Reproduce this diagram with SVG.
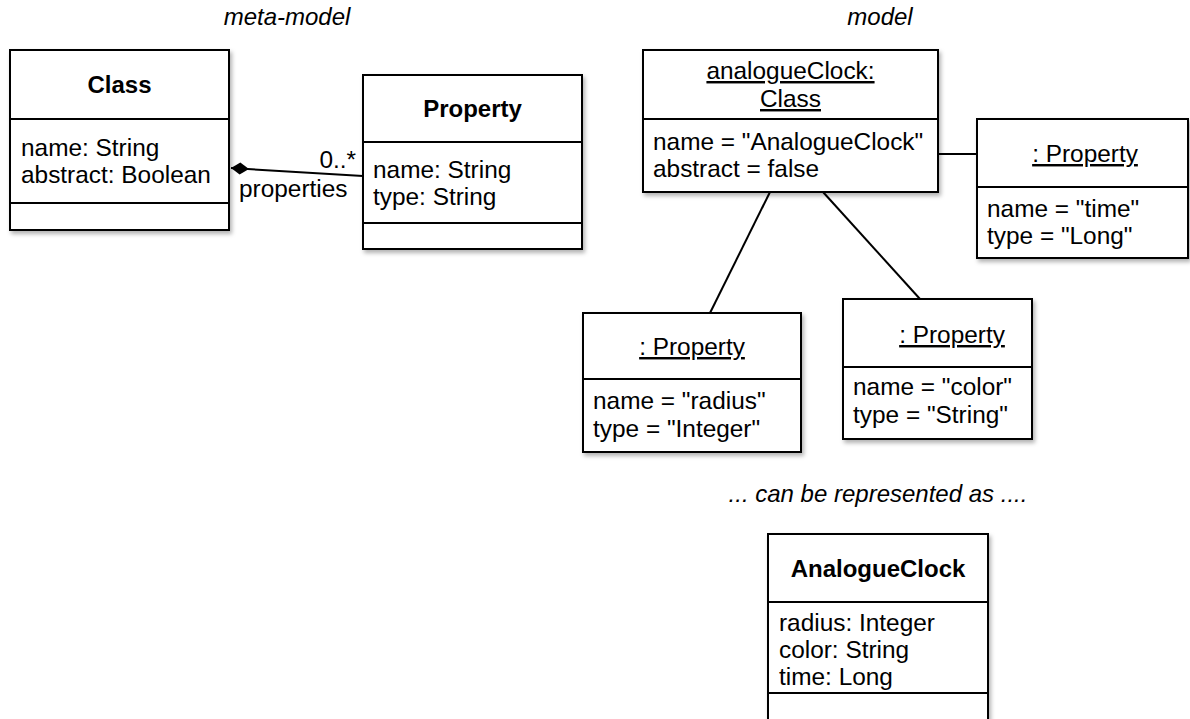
<svg xmlns="http://www.w3.org/2000/svg" width="1190" height="719" viewBox="0 0 1190 719">
  <style>
    text { font-family: "Liberation Sans", Arial, sans-serif; font-size: 24.4px; fill: #000; }
    .title { font-weight: bold; text-anchor: middle; font-size: 24px; }
    .inst { text-anchor: middle; text-decoration: underline; }
    .note { font-style: italic; text-anchor: middle; font-size: 24px; }
    .box { fill: #fff; stroke: #000; stroke-width: 2; filter: url(#shadow); }
    .sep { stroke: #000; stroke-width: 2; }
    .link { stroke: #000; stroke-width: 2; fill: none; }
  </style>
  <defs>
    <filter id="shadow" x="-10%" y="-10%" width="130%" height="130%">
      <feDropShadow dx="2" dy="3" stdDeviation="2" flood-color="#000" flood-opacity="0.3"/>
    </filter>
    <marker id="composite" viewBox="0 0 20 14" refX="1" refY="7" markerWidth="20" markerHeight="14" markerUnits="userSpaceOnUse" orient="auto">
      <polygon points="1,7 10,1 19,7 10,13" fill="#000"/>
    </marker>
  </defs>

  <!-- section labels -->
  <text class="note" x="287" y="25">meta-model</text>
  <text class="note" x="880" y="25">model</text>
  <text class="note" x="878" y="502">... can be represented as ....</text>

  <!-- connectors -->
  <g id="connectors">
    <line class="link" x1="231" y1="168" x2="363" y2="176" marker-start="url(#composite)"/>
    <text x="356" y="168" text-anchor="end">0..*</text>
    <text x="239" y="197">properties</text>
    <line class="link" x1="938" y1="154" x2="977" y2="154"/>
    <line class="link" x1="770" y1="192" x2="710" y2="313"/>
    <line class="link" x1="823" y1="192" x2="920" y2="299"/>
  </g>

  <!-- meta-model: Class -->
  <g id="class-Class">
    <rect class="box" x="10" y="50" width="219" height="180"/>
    <line class="sep" x1="10" y1="119" x2="229" y2="119"/>
    <line class="sep" x1="10" y1="203" x2="229" y2="203"/>
    <text class="title" x="119.5" y="93">Class</text>
    <text x="21" y="156">name: String</text>
    <text x="21" y="183">abstract: Boolean</text>
  </g>

  <!-- meta-model: Property -->
  <g id="class-Property">
    <rect class="box" x="363" y="75" width="219" height="174"/>
    <line class="sep" x1="363" y1="142" x2="582" y2="142"/>
    <line class="sep" x1="363" y1="223" x2="582" y2="223"/>
    <text class="title" x="472.5" y="117">Property</text>
    <text x="373" y="178">name: String</text>
    <text x="373" y="205">type: String</text>
  </g>

  <!-- model: analogueClock instance -->
  <g id="obj-analogueClock">
    <rect class="box" x="643" y="50" width="295" height="142"/>
    <line class="sep" x1="643" y1="119" x2="938" y2="119"/>
    <text class="inst" x="790.5" y="79">analogueClock:</text>
    <text class="inst" x="790.5" y="107">Class</text>
    <text x="653" y="150">name = "AnalogueClock"</text>
    <text x="653" y="177">abstract = false</text>
  </g>

  <!-- model: time property -->
  <g id="obj-time">
    <rect class="box" x="977" y="119" width="211" height="139"/>
    <line class="sep" x1="977" y1="187" x2="1188" y2="187"/>
    <text class="inst" x="1085" y="162">: Property</text>
    <text x="987" y="217">name = "time"</text>
    <text x="987" y="244">type = "Long"</text>
  </g>

  <!-- model: radius property -->
  <g id="obj-radius">
    <rect class="box" x="583" y="313" width="218" height="139"/>
    <line class="sep" x1="583" y1="379" x2="801" y2="379"/>
    <text class="inst" x="692" y="355">: Property</text>
    <text x="593" y="409">name = "radius"</text>
    <text x="593" y="437">type = "Integer"</text>
  </g>

  <!-- model: color property -->
  <g id="obj-color">
    <rect class="box" x="843" y="299" width="189" height="140"/>
    <line class="sep" x1="843" y1="367" x2="1032" y2="367"/>
    <text class="inst" x="952" y="343">: Property</text>
    <text x="853" y="395">name = "color"</text>
    <text x="853" y="423">type = "String"</text>
  </g>

  <!-- resulting class -->
  <g id="class-AnalogueClock">
    <rect class="box" x="768" y="534" width="220" height="230"/>
    <line class="sep" x1="768" y1="602" x2="988" y2="602"/>
    <line class="sep" x1="768" y1="693" x2="988" y2="693"/>
    <text class="title" x="878" y="577">AnalogueClock</text>
    <text x="779" y="631">radius: Integer</text>
    <text x="779" y="658">color: String</text>
    <text x="779" y="685">time: Long</text>
  </g>
</svg>
